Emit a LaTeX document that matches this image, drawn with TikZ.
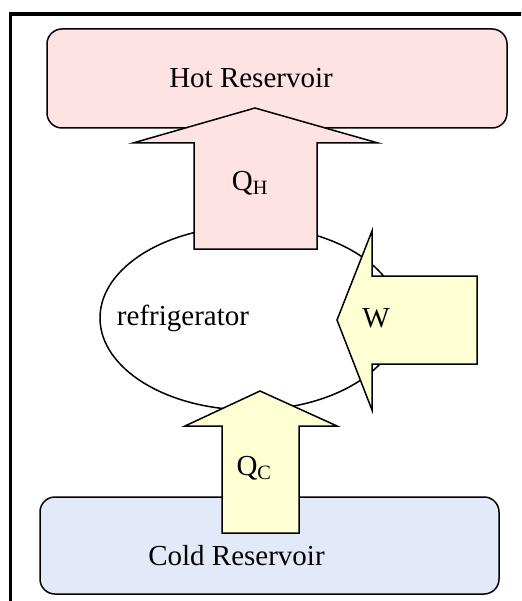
\documentclass[tikz,border=0pt]{standalone}
\usepackage{fontspec}
\setmainfont{Liberation Serif}
\definecolor{hotpink}{RGB}{255,226,226}
\definecolor{workyellow}{RGB}{255,255,212}
\definecolor{coldblue}{RGB}{226,234,250}
\usetikzlibrary{positioning}
\usetikzlibrary{shapes.geometric}
\tikzset{
  reservoir/.style={draw, line width=1.5pt, rounded corners=15pt, inner sep=0pt},
  heatflow/.style={draw, line width=1.5pt, line join=miter},
  every node/.style={font=\fontsize{29}{34}\selectfont}
}

\begin{document}
\begin{tikzpicture}[x=1pt, y=-1pt]
  \useasboundingbox (0,0) rectangle (521,601);
  \clip (0,0) rectangle (521,601);
  \draw [line width=3.5pt] (10.5,14) rectangle (560,640);

    % reservoirs and engine
    \node [reservoir, fill=hotpink, minimum width=460pt, minimum height=99pt] (hot) at (277,78.5) {};
    \node [reservoir, fill=coldblue, minimum width=459pt, minimum height=97pt] (cold) at (269.5,545.5) {};
    \node [draw, ellipse, line width=1.5pt, inner sep=0pt, minimum width=300pt, minimum height=184pt] (fridge) at (250,318) {};

    % block arrows
    \draw [heatflow, fill=hotpink] (194,249) -- (194,143) -- (133,143) -- (255,108) -- (378,143) -- (317,143) -- (317,249) -- cycle;
    \draw [heatflow, fill=workyellow] (477,276) -- (372,276) -- (372,231) -- (337,320) -- (372,410) -- (372,364) -- (477,364) -- cycle;
    \draw [heatflow, fill=workyellow] (222,533) -- (222,426) -- (185,426) -- (260,391) -- (337,426) -- (299,426) -- (299,533) -- cycle;

    \node (hotlabel) at (251,78) {Hot Reservoir};
    \node (coldlabel) at (236.5,556) {Cold Reservoir};
    \node (fridgelabel) at (183,318) {refrigerator};
    \node (qh) at (250,183) {Q\textsubscript{H}};
    \node (w) at (376,318) {W};
    \node (qc) at (254,468) {Q\textsubscript{C}};
\end{tikzpicture}
\end{document}
